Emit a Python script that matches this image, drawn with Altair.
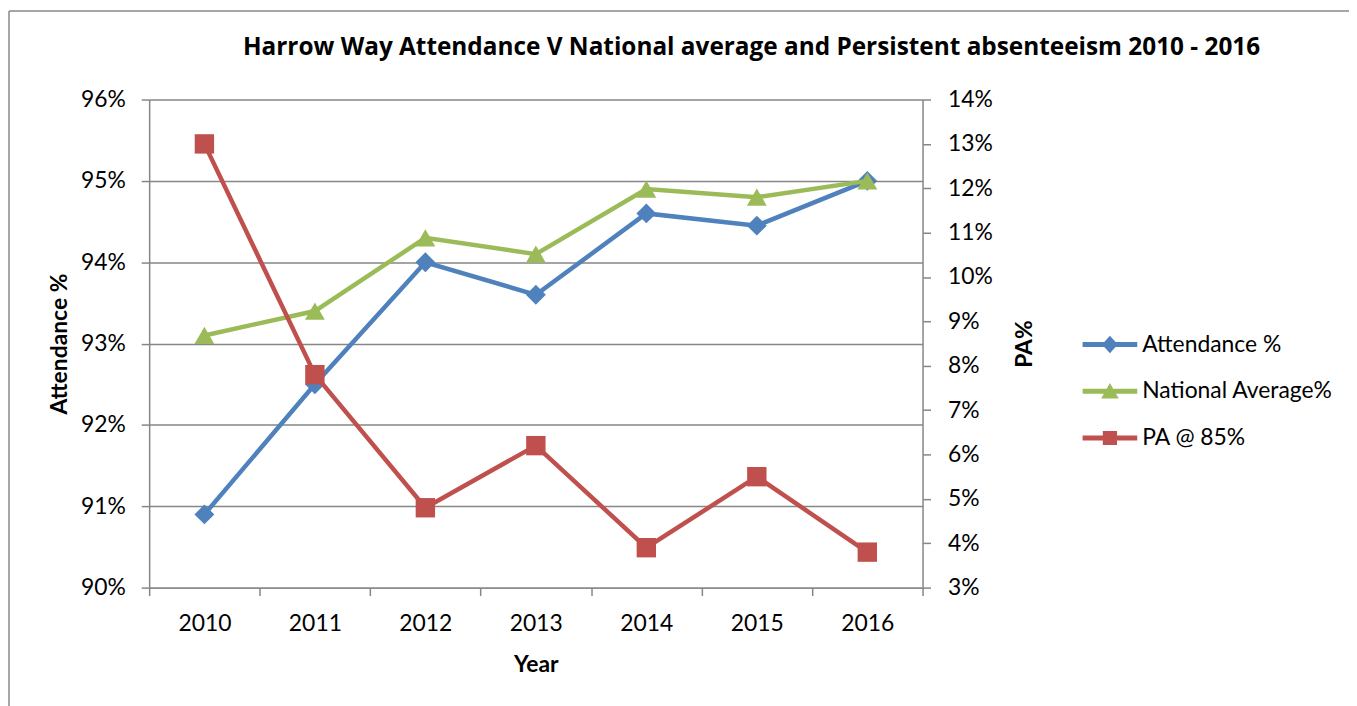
import altair as alt
import pandas as pd

years = ["2010", "2011", "2012", "2013", "2014", "2015", "2016"]
attendance = [90.9, 92.5, 94.0, 93.6, 94.6, 94.45, 95.0]
national = [93.1, 93.4, 94.3, 94.1, 94.9, 94.8, 95.0]
pa = [13.0, 7.8, 4.8, 6.2, 3.9, 5.5, 3.8]

series_names = ["Attendance %", "National Average%", "PA @ 85%"]
colors = ["#4F81BD", "#9BBB59", "#C0504D"]
left_ticks = [90, 91, 92, 93, 94, 95, 96]
right_ticks = [3, 4, 5, 6, 7, 8, 9, 10, 11, 12, 13, 14]

rows = []
for name, vals in zip(series_names, [attendance, national, pa]):
    for y, v in zip(years, vals):
        rows.append({"year": y, "series": name, "value": v})
df = pd.DataFrame(rows)

FONT = "Lato"
GRAY = "#868686"

legend_paths = [
    "M-1,-0.09L1,-0.09L1,0.09L-1,0.09Z M0,-0.32L0.29,0L0,0.32L-0.29,0Z",
    "M-1,-0.09L1,-0.09L1,0.09L-1,0.09Z M0,-0.3L0.32,0.26L-0.32,0.26Z",
    "M-1,-0.09L1,-0.09L1,0.09L-1,0.09Z M-0.26,-0.26L0.26,-0.26L0.26,0.26L-0.26,0.26Z",
]

x_enc = alt.X(
    "year:O",
    sort=years,
    scale=alt.Scale(type="band", paddingInner=0, paddingOuter=0),
    bandPosition=0.5,
    axis=alt.Axis(
        title="Year", tickBand="extent", labelAngle=0, tickSize=8, labelPadding=17,
        titleX=389, titleY=84, titleBaseline="alphabetic", grid=False,
    ),
)

y_left = alt.Y(
    "value:Q",
    scale=alt.Scale(domain=[90, 96]),
    axis=alt.Axis(
        values=left_ticks, labelExpr="datum.value + '%'", title="Attendance %",
        grid=True, tickSize=8, labelPadding=16, titleAngle=270, titleX=-83,
        titleY=245.5, titleBaseline="alphabetic", titleAlign="center",
    ),
)

y_right = alt.Y(
    "value:Q",
    scale=alt.Scale(domain=[3, 14]),
    axis=alt.Axis(
        orient="right", values=right_ticks, labelExpr="datum.value + '%'", title="PA%",
        grid=False, tickSize=8, labelPadding=17, titleAngle=270, titleX=110,
        titleY=245.5, titleBaseline="alphabetic", titleAlign="center",
    ),
)

base = alt.Chart(df)


def series_layers(name, color, shape, size, y_enc):
    sub = base.transform_filter(alt.datum.series == name)
    line = sub.mark_line(color=color, strokeWidth=4.5).encode(x=x_enc, y=y_enc)
    pts = sub.mark_point(color=color, filled=True, opacity=1, shape=shape, size=size).encode(x=x_enc, y=y_enc)
    return [line, pts]


leg = alt.Legend(
    title=None, orient="none", legendX=939, legendY=219, labelFont=FONT,
    labelFontSize=23, labelColor="black", symbolSize=3025, symbolStrokeWidth=0,
    labelOffset=5, rowPadding=7, padding=0, symbolOpacity=1, labelLimit=400,
)

legend_layer = base.mark_point(filled=True, clip=True, size=3025).encode(
    x=x_enc,
    y=alt.value(-200),
    color=alt.Color("series:N", sort=series_names,
                    scale=alt.Scale(domain=series_names, range=colors), legend=leg),
    shape=alt.Shape("series:N", sort=series_names,
                    scale=alt.Scale(domain=series_names, range=legend_paths), legend=leg),
)

left = alt.layer(
    *series_layers("Attendance %", colors[0], "diamond", 400, y_left),
    *series_layers("National Average%", colors[1], "triangle-up", 400, y_left),
    legend_layer,
)
right = alt.layer(*series_layers("PA @ 85%", colors[2], "square", 380, y_right))

frame_data = alt.Data(values=[{"a": 1}])
frame_left = alt.Chart(frame_data).mark_rule(color="#898989", strokeWidth=1.5).encode(
    x=alt.value(-141), y=alt.value(-89), y2=alt.value(700))
frame_top = alt.Chart(frame_data).mark_rule(color="#898989", strokeWidth=1.5).encode(
    x=alt.value(-141), x2=alt.value(1300), y=alt.value(-89))

chart = alt.layer(left, right, frame_left, frame_top).resolve_scale(
    y="independent", color="independent", shape="independent"
).properties(
    width=778,
    height=491,
    autosize="none",
    background="white",
    padding={"left": 142, "top": 90, "right": 429, "bottom": 117},
    title=alt.TitleParams(
        "Harrow Way Attendance V National average and Persistent absenteeism 2010 - 2016",
        font="Open Sans", fontSize=24.5, fontWeight="bold", color="black", anchor="middle",
        frame="group", dx=217, offset=-69, baseline="alphabetic",
    ),
).configure_axis(
    labelFont=FONT, labelFontSize=23, labelColor="black",
    titleFont=FONT, titleFontSize=23, titleFontWeight="bold", titleColor="black",
    domainColor=GRAY, tickColor=GRAY, gridColor=GRAY,
    domainWidth=1.5, tickWidth=1.5, gridWidth=1.5,
).configure_view(stroke=None)

chart.save("out.html", embed_options={"renderer": "svg", "actions": False})
